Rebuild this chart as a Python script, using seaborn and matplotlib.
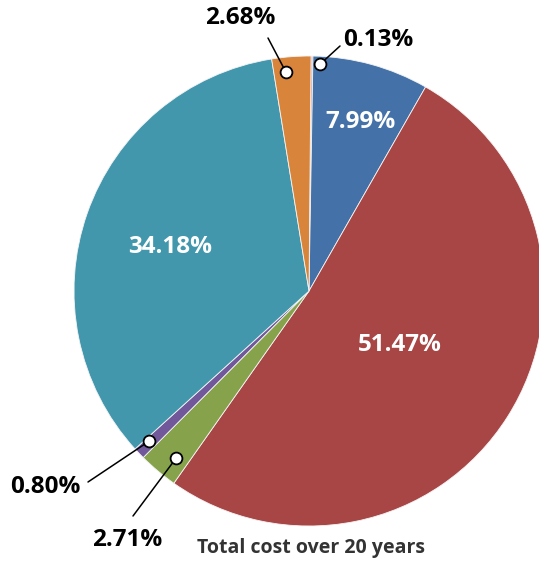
import numpy as np
import matplotlib
matplotlib.use('Agg')
import matplotlib.pyplot as plt
import seaborn as sns

# 데이터
labels = ['0.13%', '7.99%', '51.47%', '2.71%', '0.80%', '34.18%', '2.68%']
shares = [0.13, 7.99, 51.47, 2.71, 0.80, 34.18, 2.68]
colors = ['#D79A96', '#4472A8', '#A84545', '#86A34C', '#71589B', '#4397AD', '#D9843B']
title = 'Total cost over 20 years'

sns.set_theme(style='white')
plt.rcParams['font.family'] = ['Open Sans', 'DejaVu Sans']

W, H = 539, 564
fig = plt.figure(figsize=(W / 100, H / 100), dpi=100)
ax = fig.add_axes([0, 0, 1, 1])

cx, cy, R = 309, H - 291, 235
wedges, _ = ax.pie(shares, colors=colors, startangle=89.5, counterclock=False,
                   center=(cx, cy), radius=R,
                   wedgeprops=dict(linewidth=0.6, edgecolor='#f4f4f4'))
ax.set_xlim(0, W)
ax.set_ylim(0, H)
ax.set_aspect('equal')
ax.axis('off')

# 안쪽 라벨 (흰색)
inner = {1: (360, H - 122), 2: (400, H - 345), 5: (170, H - 247)}
for i, (x, y) in inner.items():
    ax.text(x, y, labels[i], color='white', fontsize=17.5, fontweight='bold',
            ha='center', va='center')

# 바깥 라벨 + 지시선: (라벨 위치, 선 끝, 반지름 비율, 각도 보정)
outer = {
    6: ((240, H - 18), (268, H - 38), 0.937, 1.7),
    0: ((378, H - 40), (340, H - 46), 0.965, -2.0),
    4: ((45, H - 487), (88, H - 482), 0.935, -0.5),
    3: ((127, H - 540), (133, H - 516), 0.91, 1.5),
}
for i, (tpos, lend, rf, da) in outer.items():
    w = wedges[i]
    mid = np.deg2rad((w.theta1 + w.theta2) / 2 + da)
    px = cx + rf * R * np.cos(mid)
    py = cy + rf * R * np.sin(mid)
    ax.plot([lend[0], px], [lend[1], py], color='black', lw=1.1, zorder=4)
    ax.plot(px, py, 'o', ms=8.5, mfc='white', mec='black', mew=1.3, zorder=5)
    ax.text(tpos[0], tpos[1], labels[i], color='black', fontsize=17.5,
            fontweight='bold', ha='center', va='center')

ax.text(311, H - 548, title, color='#333333', fontsize=14, fontweight='bold',
        ha='center', va='center')

fig.savefig('out.png', dpi=100)
